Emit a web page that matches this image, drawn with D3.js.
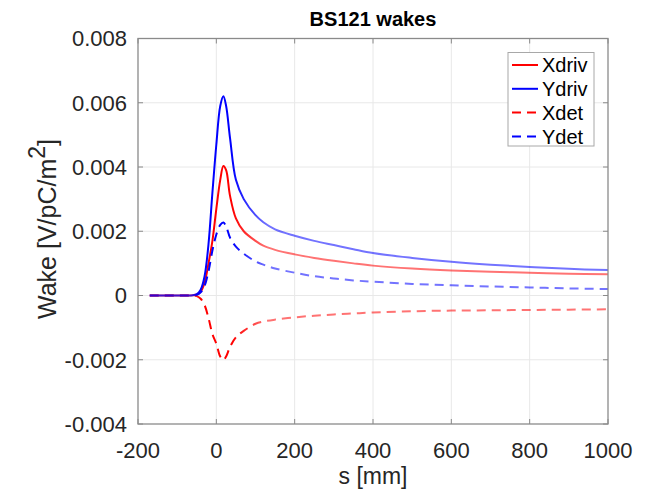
<!DOCTYPE html>
<html>
<head>
<meta charset="utf-8">
<script src="https://cdn.jsdelivr.net/npm/d3@7"></script>
<style>
  html, body { margin: 0; padding: 0; background: #fff; }
  svg { display: block; font-family: "Liberation Sans", Arial, Helvetica, sans-serif; }
</style>
</head>
<body>
<svg id="chart" width="645" height="489"></svg>
<script>
// Longitudinal position s [mm]
const sPos = [-170, -100, -70, -60, -50, -40, -30, -20, -10, 0, 10, 18, 25, 35, 50, 70, 100, 120, 150, 200, 250, 300, 350, 400, 500, 600, 700, 800, 900, 1000];

// Wake values [V/pC/m^2]
const xDriv = [0, 0, 0, 0.000005, 0.00003, 0.00012, 0.0004, 0.001, 0.0017, 0.0027, 0.0036, 0.00403, 0.0039, 0.0031, 0.0024, 0.00200, 0.00170, 0.00155, 0.00142, 0.00128, 0.00117, 0.00108, 0.00100, 0.00093, 0.00084, 0.00078, 0.00074, 0.00071, 0.00068, 0.00066];
const yDriv = [0, 0, 0, 0.00001, 0.00004, 0.00018, 0.0006, 0.0016, 0.0032, 0.0047, 0.0059, 0.0062, 0.0059, 0.0049, 0.0036, 0.0030, 0.00250, 0.00228, 0.00206, 0.00186, 0.00170, 0.00157, 0.00144, 0.00132, 0.00117, 0.00105, 0.00096, 0.00089, 0.00083, 0.00079];
const xDet  = [0, 0, 0, -0.000005, -0.00002, -0.0001, -0.0003, -0.0007, -0.0012, -0.0015, -0.0019, -0.00201, -0.0019, -0.0016, -0.0013, -0.0011, -0.00088, -0.00081, -0.00075, -0.00068, -0.00063, -0.00059, -0.00056, -0.00053, -0.00049, -0.00047, -0.00046, -0.00045, -0.00044, -0.00043];
const yDet  = [0, 0, 0, 0.000005, 0.00002, 0.0001, 0.0003, 0.00075, 0.0014, 0.0019, 0.0022, 0.00227, 0.00215, 0.0018, 0.00152, 0.0013, 0.00106, 0.00096, 0.00084, 0.00071, 0.00060, 0.00053, 0.00047, 0.00043, 0.00036, 0.00032, 0.00028, 0.00025, 0.00022, 0.0002];

const seriesNames = ["Xdriv", "Ydriv", "Xdet", "Ydet"];
const seriesValues = [xDriv, yDriv, xDet, yDet];
const seriesColors = ["#ff0000", "#0000ff", "#ff0000", "#0000ff"];
const seriesDashed = [false, false, true, true];

const xTicks = [-200, 0, 200, 400, 600, 800, 1000];
const yTicks = [-0.004, -0.002, 0, 0.002, 0.004, 0.006, 0.008];
const yTickLabels = ["-0.004", "-0.002", "0", "0.002", "0.004", "0.006", "0.008"];

const titleText = "BS121 wakes";
const xLabel = "s [mm]";

const svg = d3.select("#chart");
const m = { left: 138, right: 608, top: 38.5, bottom: 424 };

const x = d3.scaleLinear().domain([-200, 1000]).range([m.left, m.right]);
const y = d3.scaleLinear().domain([-0.004, 0.008]).range([m.bottom, m.top]);

// Grid
const grid = svg.append("g").attr("stroke", "#e8e8e8").attr("stroke-width", 1);
grid.selectAll("line.gx").data(xTicks.slice(1, -1)).join("line")
  .attr("x1", d => x(d)).attr("x2", d => x(d)).attr("y1", m.top).attr("y2", m.bottom);
grid.selectAll("line.gy").data(yTicks.slice(1, -1)).join("line")
  .attr("y1", d => y(d)).attr("y2", d => y(d)).attr("x1", m.left).attr("x2", m.right);

// Stroke gradients: curves render lighter along the long tail
const defs = svg.append("defs");
seriesColors.forEach((c, i) => {
  const g = defs.append("linearGradient")
    .attr("id", "grad" + i)
    .attr("gradientUnits", "userSpaceOnUse")
    .attr("x1", x(-200)).attr("x2", x(1000)).attr("y1", 0).attr("y2", 0);
  const stops = [[-200, 0.75], [-65, 0.75], [-40, 1], [40, 1], [130, 0.55], [1000, 0.55]];
  stops.forEach(([s, o]) => {
    g.append("stop")
      .attr("offset", (x(s) - x(-200)) / (x(1000) - x(-200)))
      .attr("stop-color", c)
      .attr("stop-opacity", o);
  });
});

// Curves
const line = d3.line()
  .x((d, i) => x(sPos[i]))
  .y(d => y(d))
  .curve(d3.curveCatmullRom.alpha(0.5));

const clip = defs.append("clipPath").attr("id", "plotclip");
clip.append("rect").attr("x", m.left).attr("y", m.top)
  .attr("width", m.right - m.left).attr("height", m.bottom - m.top);

const curves = svg.append("g").attr("clip-path", "url(#plotclip)");
seriesValues.forEach((vals, i) => {
  curves.append("path")
    .attr("d", line(vals))
    .attr("fill", "none")
    .attr("stroke", "url(#grad" + i + ")")
    .attr("stroke-width", 2)
    .attr("stroke-linejoin", "round")
    .attr("stroke-dasharray", seriesDashed[i] ? "9,6" : null);
});

// Axes box with inward ticks on all sides
const axisColor = "#8a8a8a";
svg.append("rect")
  .attr("x", m.left).attr("y", m.top)
  .attr("width", m.right - m.left).attr("height", m.bottom - m.top)
  .attr("fill", "none").attr("stroke", axisColor).attr("stroke-width", 1.3);

const tl = 5;
const ticks = svg.append("g").attr("stroke", axisColor).attr("stroke-width", 1);
xTicks.forEach(t => {
  ticks.append("line").attr("x1", x(t)).attr("x2", x(t)).attr("y1", m.bottom).attr("y2", m.bottom - tl);
  ticks.append("line").attr("x1", x(t)).attr("x2", x(t)).attr("y1", m.top).attr("y2", m.top + tl);
});
yTicks.forEach(t => {
  ticks.append("line").attr("y1", y(t)).attr("y2", y(t)).attr("x1", m.left).attr("x2", m.left + tl);
  ticks.append("line").attr("y1", y(t)).attr("y2", y(t)).attr("x1", m.right).attr("x2", m.right - tl);
});

// Tick labels
const textColor = "#262626";
svg.append("g").selectAll("text").data(xTicks).join("text")
  .attr("x", d => x(d)).attr("y", 458)
  .attr("text-anchor", "middle")
  .attr("font-size", 22).attr("fill", textColor)
  .text(d => d);

svg.append("g").selectAll("text").data(yTicks).join("text")
  .attr("x", 127).attr("y", d => y(d))
  .attr("dy", "0.36em")
  .attr("text-anchor", "end")
  .attr("font-size", 22).attr("fill", textColor)
  .text((d, i) => yTickLabels[i]);

// Title and axis labels
svg.append("text")
  .attr("x", (m.left + m.right) / 2).attr("y", 26)
  .attr("text-anchor", "middle")
  .attr("font-size", 20).attr("font-weight", "bold").attr("fill", "#000")
  .text(titleText);

svg.append("text")
  .attr("x", (m.left + m.right) / 2).attr("y", 484)
  .attr("text-anchor", "middle")
  .attr("font-size", 23).attr("fill", textColor)
  .text(xLabel);

const yl = svg.append("text")
  .attr("transform", "translate(56," + 229 + ") rotate(-90)")
  .attr("text-anchor", "middle")
  .attr("font-size", 25).attr("fill", textColor);
yl.append("tspan").text("Wake [V/pC/m");
yl.append("tspan").attr("dy", -11).attr("font-size", 23).text("2");
yl.append("tspan").attr("dy", 11).text("]");

// Legend
const lg = svg.append("g");
lg.append("rect")
  .attr("x", 508).attr("y", 52.5).attr("width", 86).attr("height", 93.5)
  .attr("fill", "#fff").attr("stroke", "#a8a8a8").attr("stroke-width", 1);
seriesNames.forEach((name, i) => {
  const cy = 65 + i * 23.8;
  lg.append("line")
    .attr("x1", 512).attr("x2", 538).attr("y1", cy).attr("y2", cy)
    .attr("stroke", seriesColors[i]).attr("stroke-width", 2)
    .attr("stroke-dasharray", seriesDashed[i] ? "9,6" : null);
  lg.append("text")
    .attr("x", 542).attr("y", cy).attr("dy", "0.36em")
    .attr("font-size", 20).attr("fill", "#000")
    .text(name);
});
</script>
</body>
</html>
